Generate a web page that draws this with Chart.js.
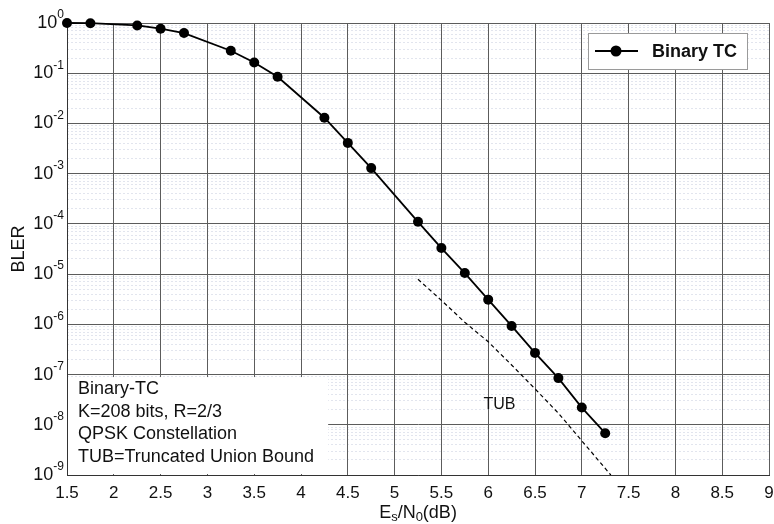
<!DOCTYPE html>
<html>
<head>
<meta charset="utf-8">
<script src="https://cdn.jsdelivr.net/npm/chart.js@4"></script>
<style>
  html, body { margin: 0; padding: 0; background: #fff; }
  #wrap { width: 774px; height: 524px; }
</style>
</head>
<body>
<div id="wrap"><canvas id="c" width="774" height="524"></canvas></div>
<script>
// BLER of the binary turbo code vs Es/N0, plus the truncated union bound

const snr = [1.5, 1.75, 2.25, 2.5, 2.75, 3.25, 3.5, 3.75, 4.25, 4.5, 4.75, 5.25, 5.5, 5.75, 6, 6.25, 6.5, 6.75, 7, 7.25]
const bler = [1.0, 0.99, 0.895, 0.77, 0.63, 0.28, 0.164, 0.085, 0.013, 0.0041, 0.00129, 1.1e-4, 3.3e-5, 1.05e-5, 3.1e-6, 9.3e-7, 2.7e-7, 8.5e-8, 2.2e-8, 6.8e-9]

const tubSnr = [5.25, 5.5, 5.75, 6, 6.25, 6.5, 6.75, 7, 7.31]
const tubBound = [7.9e-6, 3.0e-6, 1.1e-6, 4.5e-7, 1.55e-7, 5.2e-8, 1.7e-8, 4.8e-9, 1e-9]

const yExponents = [0, -1, -2, -3, -4, -5, -6, -7, -8, -9]
const minorMantissas = [2, 3, 4, 5, 6, 7, 8, 9]

const seriesLabel = "Binary TC"
const boundLabel = "TUB"
const noteLines = ["Binary-TC", "K=208 bits, R=2/3", "QPSK Constellation", "TUB=Truncated Union Bound"]

const FONT = "'Liberation Sans', Arial, sans-serif"
const INK = "#111"
const GRID = "#5c5c5c"

const toPoints = (xs, ys) => xs.map((v, i) => ({ x: v, y: ys[i] }))

const decorations = {
  id: "decorations",

  beforeDatasetsDraw(chart) {
    const { ctx, chartArea: a } = chart
    const x = chart.scales.x
    const y = chart.scales.y
    ctx.save()

    // white note box sitting over the grid, bottom-left
    const boxRight = x.getPixelForValue(4.29)
    const boxTop = y.getPixelForValue(Math.pow(10, -7.05))
    ctx.fillStyle = "#fff"
    ctx.fillRect(a.left + 1, boxTop, boxRight - a.left - 1, a.bottom - boxTop - 1)

    ctx.fillStyle = INK
    ctx.font = `18px ${FONT}`
    ctx.textAlign = "left"
    ctx.textBaseline = "middle"
    noteLines.forEach((t, i) => ctx.fillText(t, a.left + 11, boxTop + 12 + i * 22.6))

    // TUB label next to the dashed curve
    ctx.font = `16px ${FONT}`
    ctx.fillText(boundLabel, x.getPixelForValue(5.95), y.getPixelForValue(2.5e-8))
    ctx.restore()
  },

  afterDraw(chart) {
    const { ctx, chartArea: a } = chart
    const y = chart.scales.y
    ctx.save()
    ctx.fillStyle = INK

    // y tick labels as 10 with a raised exponent
    const right = a.left - 3
    y.ticks.forEach(t => {
      const py = y.getPixelForValue(t.value)
      const e = String(Math.round(Math.log10(t.value)))
      ctx.textBaseline = "middle"
      ctx.textAlign = "right"
      ctx.font = `12px ${FONT}`
      const ew = ctx.measureText(e).width
      ctx.fillText(e, right, py - 8)
      ctx.font = `18px ${FONT}`
      ctx.fillText("10", right - ew, py)
    })

    // y title
    ctx.save()
    ctx.translate(19, (a.top + a.bottom) / 2)
    ctx.rotate(-Math.PI / 2)
    ctx.font = `18px ${FONT}`
    ctx.textAlign = "center"
    ctx.textBaseline = "middle"
    ctx.fillText("BLER", 0, 0)
    ctx.restore()

    // x title with subscripts: Es/N0(dB)
    const parts = [["E", false], ["s", true], ["/N", false], ["0", true], ["(dB)", false]]
    const big = `18px ${FONT}`, small = `13px ${FONT}`
    let total = 0
    parts.forEach(([s, sub]) => { ctx.font = sub ? small : big; total += ctx.measureText(s).width })
    let px = (a.left + a.right) / 2 - total / 2
    const ty = 513
    ctx.textAlign = "left"
    ctx.textBaseline = "middle"
    parts.forEach(([s, sub]) => {
      ctx.font = sub ? small : big
      ctx.fillText(s, px, sub ? ty + 4 : ty)
      px += ctx.measureText(s).width
    })

    // legend box, top right
    const ds = chart.data.datasets[0]
    const bw = 159, bh = 36
    const bx = a.right - 22 - bw, by = a.top + 10
    ctx.fillStyle = "#fff"
    ctx.fillRect(bx, by, bw, bh)
    ctx.strokeStyle = "#9a9a9a"
    ctx.lineWidth = 1
    ctx.strokeRect(bx + 0.5, by + 0.5, bw, bh)
    const cy = by + bh / 2
    ctx.strokeStyle = ds.borderColor
    ctx.lineWidth = ds.borderWidth
    ctx.beginPath()
    ctx.moveTo(bx + 7, cy)
    ctx.lineTo(bx + 50, cy)
    ctx.stroke()
    ctx.fillStyle = ds.pointBackgroundColor
    ctx.beginPath()
    ctx.arc(bx + 28, cy, ds.pointRadius + 0.5, 0, Math.PI * 2)
    ctx.fill()
    ctx.fillStyle = INK
    ctx.font = `bold 18px ${FONT}`
    ctx.textAlign = "left"
    ctx.fillText(ds.label, bx + 64, cy + 1)

    ctx.restore()
  }
}

new Chart(document.getElementById("c"), {
  type: "line",
  data: {
    datasets: [
      {
        label: seriesLabel,
        data: toPoints(snr, bler),
        borderColor: "#000",
        borderWidth: 1.8,
        pointRadius: 5,
        pointBackgroundColor: "#000",
        pointBorderWidth: 0,
        tension: 0,
        clip: false
      },
      {
        label: boundLabel,
        data: toPoints(tubSnr, tubBound),
        borderColor: "#000",
        borderWidth: 1.2,
        borderDash: [4, 3],
        pointRadius: 0,
        tension: 0
      }
    ]
  },
  options: {
    responsive: false,
    animation: false,
    layout: { padding: { top: 23, right: 2, left: 0, bottom: 0 } },
    plugins: { legend: { display: false }, tooltip: { enabled: false } },
    scales: {
      x: {
        type: "linear",
        min: 1.5,
        max: 9,
        ticks: {
          stepSize: 0.5, color: INK, font: { family: FONT, size: 17 }, padding: 8,
          autoSkip: false, maxRotation: 0, callback: v => String(v)
        },
        grid: { color: GRID, drawTicks: false },
        border: { color: "#333" },
        afterFit(s) { s.height = 49; s.paddingLeft = 0; s.paddingRight = 0 }
      },
      yMinor: {
        type: "logarithmic",
        position: "left",
        min: Math.pow(10, -9),
        max: 1,
        ticks: { display: false },
        grid: { color: "#e2e5ee", drawTicks: false, z: -2 },
        border: { display: false, dash: [2, 2] },
        afterBuildTicks(s) {
          const ticks = []
          yExponents.slice(1).forEach(e => minorMantissas.forEach(m => ticks.push({ value: m * Math.pow(10, e) })))
          s.ticks = ticks
        },
        afterFit(s) { s.width = 0 }
      },
      y: {
        type: "logarithmic",
        position: "left",
        min: Math.pow(10, -9),
        max: 1,
        ticks: { display: false },
        grid: { color: GRID, drawTicks: false },
        border: { color: "#333" },
        afterBuildTicks(s) { s.ticks = yExponents.map(e => ({ value: Math.pow(10, e) })) },
        afterFit(s) { s.width = 67 }
      }
    }
  },
  plugins: [decorations]
})
</script>
</body>
</html>
